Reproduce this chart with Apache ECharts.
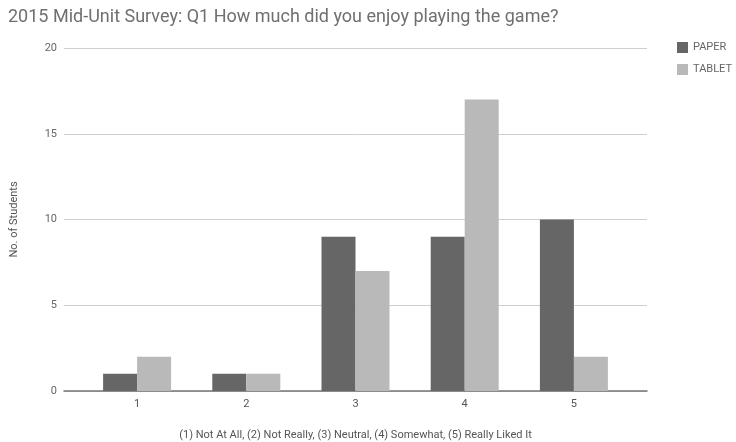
<!DOCTYPE html>
<html>
<head>
<meta charset="utf-8">
<script src="https://cdn.jsdelivr.net/npm/echarts@6/dist/echarts.min.js"></script>
<style>
  html, body { margin: 0; padding: 0; background: #fff; }
  #chart { width: 736px; height: 442px; }
</style>
</head>
<body>
<div id="chart"></div>
<script>
const CATEGORIES = ['1', '2', '3', '4', '5'];
const PAPER = [1, 1, 9, 9, 10];
const TABLET = [2, 1, 7, 17, 2];
const Y_MIN = 0;
const Y_MAX = 20;
const Y_STEP = 5;

const FONT = 'Roboto';
const chart = echarts.init(document.getElementById('chart'), null, { renderer: 'canvas' });

const option = {
  backgroundColor: '#fff',
  animation: false,
  textStyle: { fontFamily: FONT },
  title: {
    text: '2015 Mid-Unit Survey: Q1 How much did you enjoy playing the game?',
    left: 3,
    top: 3,
    textStyle: { fontFamily: FONT, fontSize: 18, fontWeight: 'normal', color: '#6f6f6f' }
  },
  legend: {
    orient: 'vertical',
    left: 672,
    top: 37,
    itemWidth: 11,
    itemHeight: 11,
    itemGap: 11,
    icon: 'rect',
    textStyle: { fontFamily: FONT, fontSize: 11, color: '#666' },
    data: ['PAPER', 'TABLET']
  },
  grid: [
    // gridlines and baseline span the full chart area
    { left: 64, right: 89, top: 48, bottom: 51, outerBoundsMode: 'none', containLabel: false },
    // categories sit a bit inside it
    { left: 82.5, right: 107.5, top: 48, bottom: 51, outerBoundsMode: 'none', containLabel: false }
  ],
  xAxis: [
    {
      gridIndex: 0,
      type: 'value',
      min: 0,
      max: 1,
      axisLine: { show: true, lineStyle: { color: '#777', width: 1.5 } },
      axisTick: { show: false },
      axisLabel: { show: false },
      splitLine: { show: false },
      name: '(1) Not At All, (2) Not Really, (3) Neutral, (4) Somewhat, (5) Really Liked It',
      nameLocation: 'middle',
      nameGap: 39,
      nameTextStyle: { fontFamily: FONT, fontSize: 11, color: '#555' }
    },
    {
      gridIndex: 1,
      type: 'category',
      data: CATEGORIES,
      axisLine: { show: false },
      axisTick: { show: false },
      axisLabel: { margin: 8, fontFamily: FONT, fontSize: 11, color: '#555' }
    }
  ],
  yAxis: [
    {
      gridIndex: 0,
      type: 'value',
      min: Y_MIN,
      max: Y_MAX,
      interval: Y_STEP,
      axisLine: { show: false },
      axisTick: { show: false },
      axisLabel: { margin: 7, fontFamily: FONT, fontSize: 11, color: '#666' },
      splitLine: { lineStyle: { color: '#cfcfcf', width: 1 } },
      name: 'No. of Students',
      nameLocation: 'middle',
      nameGap: 44,
      nameTextStyle: { fontFamily: FONT, fontSize: 11, color: '#555' }
    },
    {
      gridIndex: 1,
      type: 'value',
      min: Y_MIN,
      max: Y_MAX,
      interval: Y_STEP,
      show: false,
      splitLine: { show: false }
    }
  ],
  series: [
    {
      name: 'PAPER',
      type: 'bar',
      xAxisIndex: 1,
      yAxisIndex: 1,
      data: PAPER,
      barWidth: 34,
      barGap: '0%',
      itemStyle: { color: '#666666' }
    },
    {
      name: 'TABLET',
      type: 'bar',
      xAxisIndex: 1,
      yAxisIndex: 1,
      data: TABLET,
      barWidth: 34,
      barGap: '0%',
      itemStyle: { color: '#b9b9b9' }
    }
  ]
};

chart.setOption(option);
</script>
</body>
</html>
